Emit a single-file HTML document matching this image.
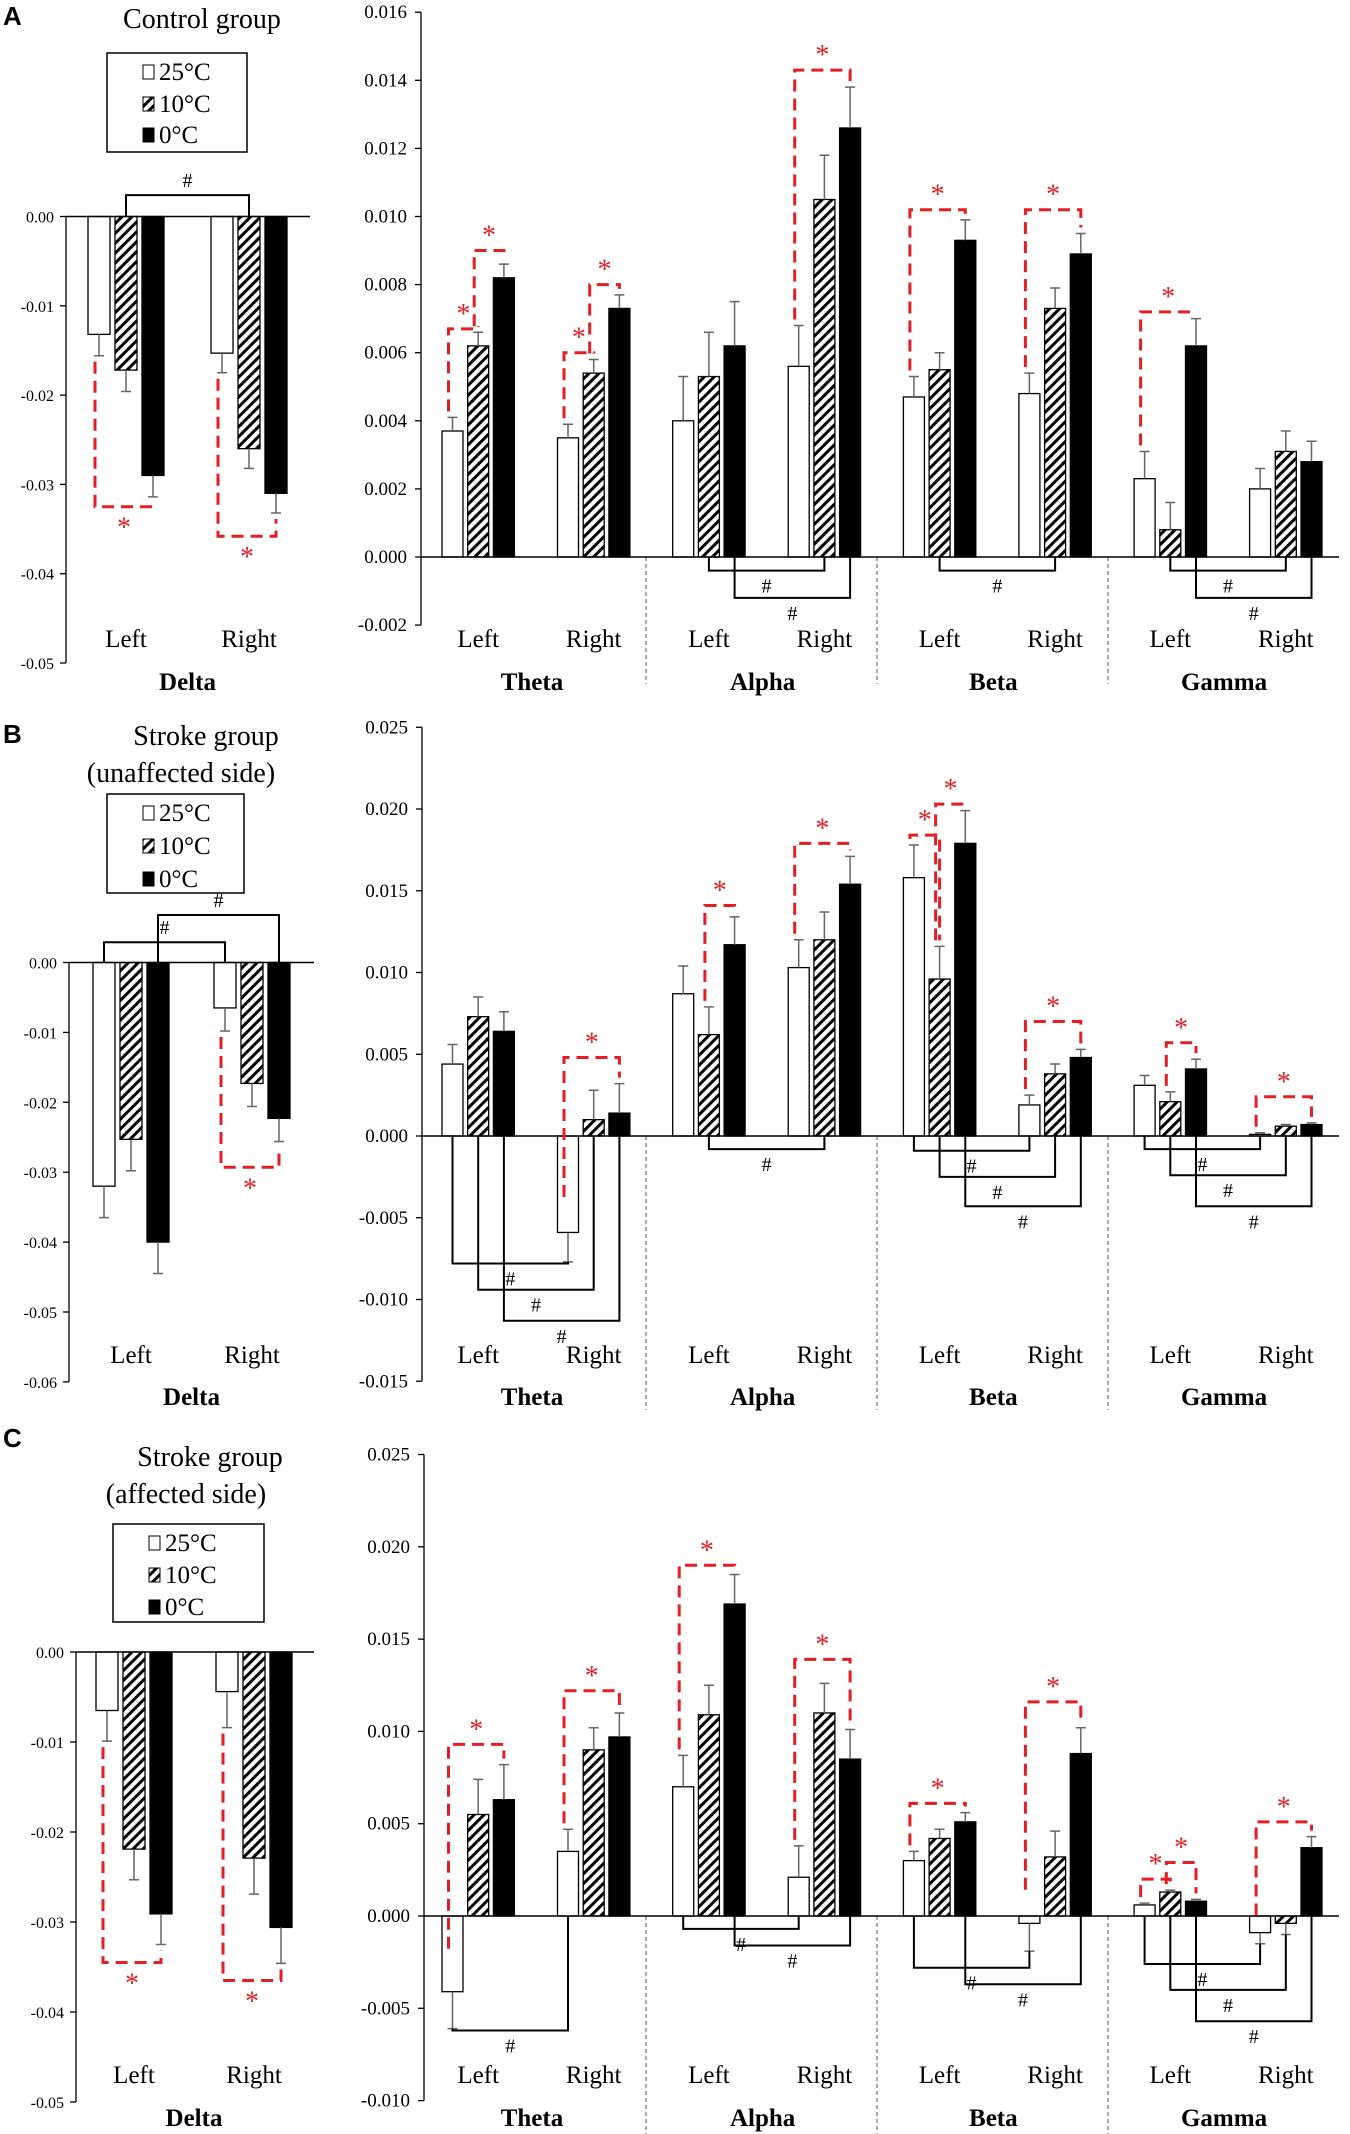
<!DOCTYPE html>
<html><head><meta charset="utf-8">
<style>
html,body{margin:0;padding:0;background:#fff;}
svg{display:block;}
text{font-family:"Liberation Serif",serif;}
</style></head>
<body>
<svg id="fig" width="1350" height="2134" viewBox="0 0 1350 2134" xmlns="http://www.w3.org/2000/svg">
<defs>
<pattern id="hatch" patternUnits="userSpaceOnUse" width="7" height="7" patternTransform="rotate(45)">
<rect width="7" height="7" fill="#fff"/><rect x="0" y="0" width="3" height="7" fill="#000"/>
</pattern>
</defs>
</svg>
<script>
// ---------- DATA ----------
const temps = ['25°C','10°C','0°C'];
const sides = ['Left','Right'];
const bandsRight = ['Theta','Alpha','Beta','Gamma'];
// Panel A (control)
const aDelta = [[-0.0132,-0.0172,-0.0290],[-0.0153,-0.0260,-0.0310]];
const aDeltaErr = [[0.0024,0.0024,0.0024],[0.0022,0.0022,0.0022]];
const aRight = [[[0.0037,0.0062,0.0082],[0.0035,0.0054,0.0073]],
                [[0.0040,0.0053,0.0062],[0.0056,0.0105,0.0126]],
                [[0.0047,0.0055,0.0093],[0.0048,0.0073,0.0089]],
                [[0.0023,0.0008,0.0062],[0.0020,0.0031,0.0028]]];
const aRightErr = [[[0.0004,0.0004,0.0004],[0.0004,0.0004,0.0004]],
                   [[0.0013,0.0013,0.0013],[0.0012,0.0013,0.0012]],
                   [[0.0006,0.0005,0.0006],[0.0006,0.0006,0.0006]],
                   [[0.0008,0.0008,0.0008],[0.0006,0.0006,0.0006]]];
// Panel B (stroke unaffected)
const bDelta = [[-0.0320,-0.0253,-0.0400],[-0.0065,-0.0173,-0.0223]];
const bDeltaErr = [[0.0045,0.0045,0.0045],[0.0033,0.0033,0.0033]];
const bRight = [[[0.0044,0.0073,0.0064],[-0.0059,0.0010,0.0014]],
                [[0.0087,0.0062,0.0117],[0.0103,0.0120,0.0154]],
                [[0.0158,0.0096,0.0179],[0.0019,0.0038,0.0048]],
                [[0.0031,0.0021,0.0041],[0.0001,0.0006,0.0007]]];
const bRightErr = [[[0.0012,0.0012,0.0012],[0.0018,0.0018,0.0018]],
                   [[0.0017,0.0017,0.0017],[0.0017,0.0017,0.0017]],
                   [[0.0020,0.0020,0.0020],[0.0006,0.0006,0.0005]],
                   [[0.0006,0.0006,0.0006],[0.0001,0.0001,0.0001]]];
// Panel C (stroke affected)
const cDelta = [[-0.0065,-0.0219,-0.0291],[-0.0044,-0.0229,-0.0306]];
const cDeltaErr = [[0.0034,0.0034,0.0034],[0.0040,0.0040,0.0040]];
const cRight = [[[-0.0041,0.0055,0.0063],[0.0035,0.0090,0.0097]],
                [[0.0070,0.0109,0.0169],[0.0021,0.0110,0.0085]],
                [[0.0030,0.0042,0.0051],[-0.0004,0.0032,0.0088]],
                [[0.0006,0.0013,0.0008],[-0.0009,-0.0004,0.0037]]];
const cRightErr = [[[0.0020,0.0019,0.0019],[0.0012,0.0012,0.0013]],
                   [[0.0017,0.0016,0.0016],[0.0017,0.0016,0.0016]],
                   [[0.0005,0.0005,0.0005],[0.0015,0.0014,0.0014]],
                   [[0.0001,0.0001,0.0001],[0.0006,0.0006,0.0006]]];
// significance brackets: black [band, sideA, tempA, sideB, tempB, level]; band -1 = delta
const aHash = [[-1,0,1,1,1,0.0024],[1,0,1,1,1,-0.0004],[1,0,2,1,2,-0.0012],[2,0,1,1,1,-0.0004],[3,0,1,1,1,-0.0004],[3,0,2,1,2,-0.0012]];
const bHash = [[-1,0,0,1,0,0.0029],[-1,0,2,1,2,0.0068],[0,0,0,1,0,-0.0078],[0,0,1,1,1,-0.0094],[0,0,2,1,2,-0.0113],
               [1,0,1,1,1,-0.0008],[2,0,0,1,0,-0.0009],[2,0,1,1,1,-0.0025],[2,0,2,1,2,-0.0043],
               [3,0,0,1,0,-0.0008],[3,0,1,1,1,-0.0024],[3,0,2,1,2,-0.0043]];
const cHash = [[0,0,0,1,0,-0.0062],[1,0,0,1,0,-0.0007],[1,0,2,1,2,-0.0016],[2,0,0,1,0,-0.0028],[2,0,2,1,2,-0.0037],
               [3,0,0,1,0,-0.0026],[3,0,1,1,1,-0.0040],[3,0,2,1,2,-0.0057]];
// red brackets [band, side, tempA, tempB, level]
const aStar = [[-1,0,0,2,-0.0325],[-1,1,0,2,-0.0358],[0,0,1,2,0.0090],[0,0,0,1,0.0067],[0,1,1,2,0.0080],[0,1,0,1,0.0060],
               [1,1,0,2,0.0143],[2,0,0,2,0.0102],[2,1,0,2,0.0102],[3,0,0,2,0.0072]];
const bStar = [[-1,1,0,2,-0.0293],[0,1,0,2,0.0048],[1,0,1,2,0.0141],[1,1,0,2,0.0179],[2,0,0,1,0.0184],[2,0,1,2,0.0203],
               [2,1,0,2,0.0070],[3,0,1,2,0.0057],[3,1,0,2,0.0024]];
const cStar = [[-1,0,0,2,-0.0345],[-1,1,0,2,-0.0365],[0,0,0,2,0.0093],[0,1,0,2,0.0122],[1,0,0,2,0.0190],[1,1,0,2,0.0139],
               [2,0,0,2,0.0061],[2,1,0,2,0.0116],[3,0,0,1,0.0020],[3,0,1,2,0.0029],[3,1,0,2,0.0051]];
const leftTicksA = [0,-0.01,-0.02,-0.03,-0.04,-0.05];
const leftTicksB = [0,-0.01,-0.02,-0.03,-0.04,-0.05,-0.06];
const leftTicksC = [0,-0.01,-0.02,-0.03,-0.04,-0.05];
const rightTicksA = [0.016,0.014,0.012,0.010,0.008,0.006,0.004,0.002,0,-0.002];
const rightTicksB = [0.025,0.020,0.015,0.010,0.005,0,-0.005,-0.010,-0.015];
const rightTicksC = [0.025,0.020,0.015,0.010,0.005,0,-0.005,-0.010];

// ---------- LAYOUT ----------
const svg = document.getElementById('fig');
const NS = 'http://www.w3.org/2000/svg';
function mk(tag, attrs, parent){const e=document.createElementNS(NS,tag);for(const k in attrs)e.setAttribute(k,attrs[k]);(parent||svg).appendChild(e);return e;}
function txt(s, attrs, parent){const e=mk('text',attrs,parent);e.textContent=s;return e;}

const panels = [
 {id:'a', letter:'A', title:['Control group'], titleX:[202], titleY:[28], letterY:25,
  legend:{x:107,y:53,w:140,h:99,rows:[80,112,143]},
  L:{axisX:66, zeroY:216.5, ppu:8930, top:0, bot:-0.05, ticks:leftTicksA, dec:2, barStart:[88,211], lineEnd:310},
  R:{axisX:421, zeroY:557, ppu:34050, top:0.016, bot:-0.002, ticks:rightTicksA, dec:3, lineEnd:1339, divTop:557, divBot:684},
  labY:647, bandY:690, delta:aDelta, deltaErr:aDeltaErr, right:aRight, rightErr:aRightErr, hash:aHash, star:aStar},
 {id:'b', letter:'B', title:['Stroke group','(unaffected side)'], titleX:[206,181], titleY:[745,782], letterY:743,
  legend:{x:107,y:794,w:137,h:99,rows:[821,854,887]},
  L:{axisX:69, zeroY:962.5, ppu:6990, top:0, bot:-0.06, ticks:leftTicksB, dec:2, barStart:[93,214], lineEnd:314},
  R:{axisX:422, zeroY:1136, ppu:16350, top:0.025, bot:-0.015, ticks:rightTicksB, dec:3, lineEnd:1339, divTop:1136, divBot:1410},
  labY:1363, bandY:1405, delta:bDelta, deltaErr:bDeltaErr, right:bRight, rightErr:bRightErr, hash:bHash, star:bStar},
 {id:'c', letter:'C', title:['Stroke group','(affected side)'], titleX:[210,186], titleY:[1466,1503], letterY:1447,
  legend:{x:113,y:1524,w:151,h:98,rows:[1551,1583,1615]},
  L:{axisX:76, zeroY:1652, ppu:9000, top:0, bot:-0.05, ticks:leftTicksC, dec:2, barStart:[96,216], lineEnd:314},
  R:{axisX:424, zeroY:1916, ppu:18460, top:0.025, bot:-0.010, ticks:rightTicksC, dec:3, lineEnd:1339, divTop:1916, divBot:2134},
  labY:2083, bandY:2126, delta:cDelta, deltaErr:cDeltaErr, right:cRight, rightErr:cRightErr, hash:cHash, star:cStar}
];
const fills = ['#fff','url(#hatch)','#000'];

panels.forEach(p=>{
  const g = mk('g',{});
  
  
  const lt = txt(p.letter,{x:3,y:p.letterY,'font-size':26,'font-weight':'bold',style:'font-family:"Liberation Sans",sans-serif'},g);
  
  
  p.title.forEach((t,i)=>{
    const e=txt(t,{x:p.titleX[i],y:p.titleY[i],'font-size':28,'text-anchor':'middle'},g);
    
    
  });
  // legend
  const lg = mk('g',{},g);
  
  
  mk('rect',{x:p.legend.x,y:p.legend.y,width:p.legend.w,height:p.legend.h,fill:'#fff',stroke:'#000','stroke-width':1.5},lg);
  temps.forEach((t,i)=>{
    const ry=p.legend.rows[i];
    const sx=p.legend.x+36;
    const sw=mk('rect',{x:sx,y:ry-15,width:11,height:14,fill:i==1?'url(#hatch)':fills[i],stroke:'#000','stroke-width':1},lg);
    
    
    const lt2=txt(t,{x:sx+16,y:ry,'font-size':25},lg);
    
    
  });

  // ---------- axes ----------
  function yL(v){return p.L.zeroY - v*p.L.ppu;}
  function yR(v){return p.R.zeroY - v*p.R.ppu;}
  function xL(side,t){return p.L.barStart[side]+27*t;}
  function xR(band,side,t){return 442+230.7*band+115.5*side+25.7*t;}
  const BWL=22, BWR=21;

  // left axis
  const la=mk('g',{},g);
  
  
  mk('line',{x1:p.L.axisX,y1:yL(p.L.top),x2:p.L.axisX,y2:yL(p.L.bot),stroke:'#000','stroke-width':1.3},la);
  p.L.ticks.forEach(v=>{
    mk('line',{x1:p.L.axisX-6,y1:yL(v),x2:p.L.axisX,y2:yL(v),stroke:'#000','stroke-width':1.3},la);
    const tl=txt(v.toFixed(p.L.dec),{x:p.L.axisX-12,y:yL(v)+6,'font-size':16,'text-anchor':'end'},la);
    
    
  });
  // right axis
  const ra=mk('g',{},g);
  
  
  mk('line',{x1:p.R.axisX,y1:yR(p.R.top),x2:p.R.axisX,y2:yR(p.R.bot),stroke:'#000','stroke-width':1.3},ra);
  p.R.ticks.forEach(v=>{
    mk('line',{x1:p.R.axisX-6,y1:yR(v),x2:p.R.axisX,y2:yR(v),stroke:'#000','stroke-width':1.3},ra);
    const tl=txt(v.toFixed(p.R.dec),{x:p.R.axisX-14,y:yR(v)+6,'font-size':19,'text-anchor':'end'},ra);
    
    
  });
  // dividers
  [0,1,2].forEach(k=>{
    const dx=646+231*k;
    const d=mk('line',{x1:dx,y1:p.R.divTop,x2:dx,y2:p.R.divBot,stroke:'#555','stroke-width':1,'stroke-dasharray':'4 3'},g);
    
    
  });

  // bars
  function bar(x,w,v,e,yf,t,name){
    const y0=yf(0), y1=yf(v);
    const r=mk('rect',{x:x,y:Math.min(y0,y1),width:w,height:Math.abs(y1-y0),fill:fills[t],stroke:'#000','stroke-width':1.3},g);
    
    
    const ye=yf(v+(v>=0?e:-e)), cx=x+w/2;
    const eb=mk('path',{d:`M${cx},${y1}V${ye}M${cx-5},${ye}H${cx+5}`,stroke:'#666','stroke-width':1.5,fill:'none'},g);
    
    
  }
  p.delta.forEach((arr,s)=>arr.forEach((v,t)=>bar(xL(s,t),BWL,v,p.deltaErr[s][t],yL,t,'bar-delta-'+sides[s].toLowerCase()+'-'+t)));
  p.right.forEach((bd,b)=>bd.forEach((arr,s)=>arr.forEach((v,t)=>bar(xR(b,s,t),BWR,v,p.rightErr[b][s][t],yR,t,'bar-'+bandsRight[b].toLowerCase()+'-'+sides[s].toLowerCase()+'-'+t))));
  // zero lines
  const z1=mk('line',{x1:p.L.axisX,y1:yL(0),x2:p.L.lineEnd,y2:yL(0),stroke:'#000','stroke-width':1.5},g);
   
  const z2=mk('line',{x1:p.R.axisX,y1:yR(0),x2:p.R.lineEnd,y2:yR(0),stroke:'#000','stroke-width':1.5},g);
   

  // category labels
  sides.forEach((s,si)=>{
    const cxl=xL(si,1)+BWL/2;
    const l=txt(s,{x:cxl,y:p.labY,'font-size':25,'text-anchor':'middle'},g);
     
    bandsRight.forEach((b,bi)=>{
      const l2=txt(s,{x:xR(bi,si,1)+BWR/2,y:p.labY,'font-size':25,'text-anchor':'middle'},g);
       
    });
  });
  const dl=txt('Delta',{x:(xL(0,1)+xL(1,1))/2+BWL/2,y:p.bandY,'font-size':25,'font-weight':'bold','text-anchor':'middle'},g);
   
  bandsRight.forEach((b,bi)=>{
    const bl=txt(b,{x:(xR(bi,0,1)+xR(bi,1,1))/2+BWR/2-4,y:p.bandY,'font-size':25,'font-weight':'bold','text-anchor':'middle'},g);
     
  });

  // value helpers
  function val(b,s,t){return b<0?p.delta[s][t]:p.right[b][s][t];}
  function err(b,s,t){return b<0?p.deltaErr[s][t]:p.rightErr[b][s][t];}
  function cx(b,s,t){return b<0?xL(s,t)+BWL/2:xR(b,s,t)+BWR/2;}
  function yf(b){return b<0?yL:yR;}

  // black # brackets
  p.hash.forEach(h=>{
    const [b,sa,ta,sb,tb,lev]=h; const Y=yf(b);
    const xa=cx(b,sa,ta), xb=cx(b,sb,tb);
    const va=val(b,sa,ta), vb=val(b,sb,tb);
    const ea=(lev<0&&va<0)?va-err(b,sa,ta):0;
    const eb=(lev<0&&vb<0)?vb-err(b,sb,tb):0;
    const pth=mk('path',{d:`M${xa},${Y(ea)}V${Y(lev)}H${xb}V${Y(eb)}`,stroke:'#000','stroke-width':2,fill:'none'},g);
     
    const ly = lev>0 ? Y(lev)-8 : Y(lev)+22;
    const ht=txt('#',{x:(xa+xb)/2,y:ly,'font-size':20,'text-anchor':'middle'},g);
     
  });
  // red * brackets
  p.star.forEach(st=>{
    const [b,s,ta,tb,lev]=st; const Y=yf(b);
    const xa=cx(b,s,ta)-4, xb=cx(b,s,tb);
    const va=val(b,s,ta), vb=val(b,s,tb);
    const sgn = lev>=0?1:-1;
    const ya=Y(va+sgn*err(b,s,ta))-sgn*6;
    const yb=Y(vb+sgn*err(b,s,tb))-sgn*6;
    const pth=mk('path',{d:`M${xa},${ya}V${Y(lev)}H${xb}V${yb}`,stroke:'#e31e24','stroke-width':3,fill:'none','stroke-dasharray':'12 7'},g);
     
    const sy = lev>=0 ? Y(lev)-6 : Y(lev)+30;
    const stx=txt('*',{x:(xa+xb)/2,y:sy,'font-size':28,fill:'#e31e24','text-anchor':'middle'},g);
     
  });
});
</script>
</body></html>
